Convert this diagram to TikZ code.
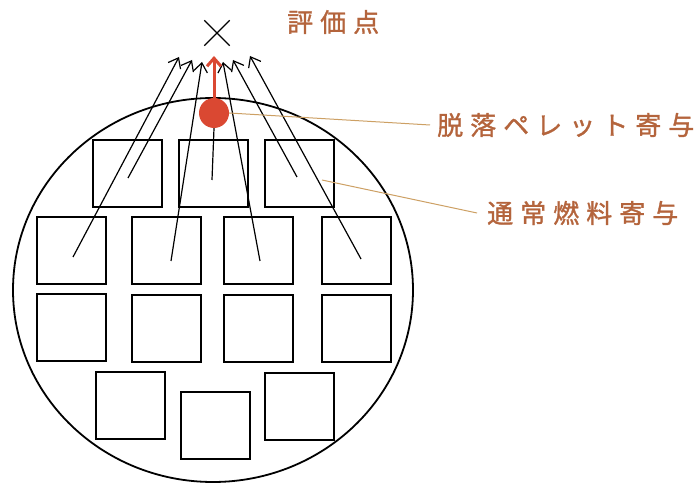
\documentclass[tikz,border=0pt]{standalone}
\usepackage{fontspec}
\newfontfamily\cjk[LetterSpace=27,FakeBold=1.2]{Noto Sans CJK JP}
\usetikzlibrary{arrows.meta,shapes.geometric,shapes.misc}
\definecolor{dotred}{RGB}{218,72,50}
\definecolor{labelbrown}{RGB}{180,100,60}
\definecolor{leadercol}{RGB}{205,160,100}
\begin{document}
\begin{tikzpicture}[x=1pt,y=-1pt,
  fuelbox/.style={draw, line width=1.8pt, minimum width=69pt, minimum height=67pt, inner sep=0pt},
  contrib/.style={line width=1.2pt, -{Straight Barb[length=9pt,width=14pt]}},
  lbl/.style={text=labelbrown, font=\cjk\fontsize{26pt}{28pt}\selectfont, inner sep=0pt, anchor=west},
  leader/.style={draw=leadercol, line width=1pt}]
\useasboundingbox (0,0) rectangle (699,486);
\fill[white] (0,0) rectangle (699,486);
% vessel
\node[draw, ellipse, line width=1.8pt, minimum width=400pt, minimum height=384pt, inner sep=0pt] (vessel) at (213,290) {};
% fuel boxes
\node[fuelbox] (r1a) at (127.5,173.5) {};
\node[fuelbox] (r1b) at (213.5,173.5) {};
\node[fuelbox] (r1c) at (299.5,173.5) {};
\node[fuelbox] (r2a) at (71.5,250.5) {};
\node[fuelbox] (r2b) at (166.5,250.5) {};
\node[fuelbox] (r2c) at (258.5,250.5) {};
\node[fuelbox] (r2d) at (356.5,250.5) {};
\node[fuelbox] (r3a) at (71.5,327.5) {};
\node[fuelbox] (r3b) at (166.5,328.5) {};
\node[fuelbox] (r3c) at (258.5,328.5) {};
\node[fuelbox] (r3d) at (356.5,328.5) {};
\node[fuelbox] (r4a) at (130.5,405.5) {};
\node[fuelbox] (r4b) at (215.5,425.5) {};
\node[fuelbox] (r4c) at (299.5,406.5) {};
% start points inside boxes
\coordinate (s1) at (73,257);
\coordinate (s2) at (128,178);
\coordinate (s3) at (171,261);
\coordinate (s4) at (212,180);
\coordinate (s5) at (260,261);
\coordinate (s6) at (297,177);
\coordinate (s7) at (361,259);
% tips near evaluation point
\coordinate (e1) at (179,57);
\coordinate (e2) at (192,60);
\coordinate (e3) at (202,62);
\coordinate (e5) at (223,62);
\coordinate (e6) at (233,60);
\coordinate (e7) at (250,56);
\coordinate (e4) at (214,56);
% red pellet
\node[circle, fill=dotred, minimum size=30pt, inner sep=0pt] (dot) at (214,113) {};
% contribution lines
\draw[contrib] (s1) -- (e1);
\draw[contrib] (s2) -- (e2);
\draw[contrib] (s3) -- (e3);
\draw[line width=1.2pt] (s4) -- (dot.south);
\draw[contrib] (s5) -- (e5);
\draw[contrib] (s6) -- (e6);
\draw[contrib] (s7) -- (e7);
\draw[dotred, line width=3pt, -{Straight Barb[length=8pt,width=14pt]}] (dot.north) -- (e4);
% evaluation point
\node[draw, cross out, line width=1.4pt, minimum size=24pt, inner sep=0pt] (eval) at (217,33) {};
% labels
\node[lbl] (t3) at (287,22) {評価点};
\node[lbl] (t1) at (437,125) {脱落ペレット寄与};
\node[lbl] (t2) at (487,213) {通常燃料寄与};
\draw[leader] (dot.east) -- ([xshift=-7pt]t1.west);
\draw[leader] (322,180) coordinate (l2) -- ([xshift=-10pt]t2.west);
\end{tikzpicture}
\end{document}
